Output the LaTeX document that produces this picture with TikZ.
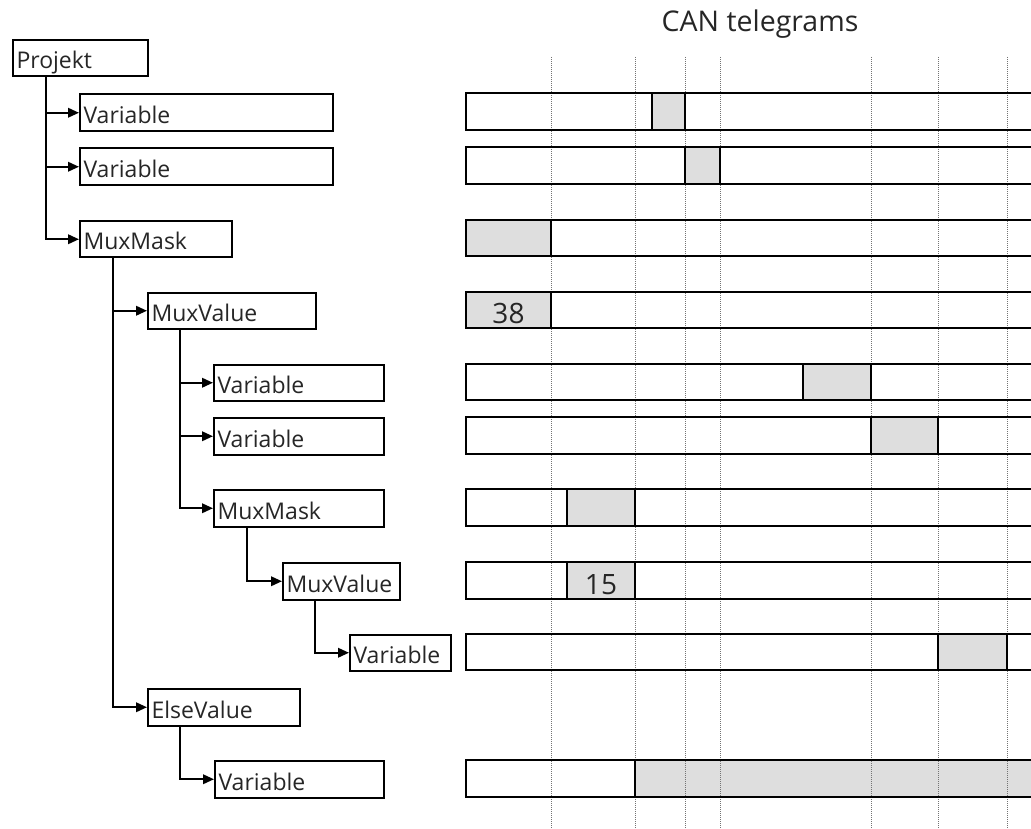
\documentclass[tikz,border=0pt]{standalone}
\usepackage{fontspec}
\setmainfont{Open Sans}
\usetikzlibrary{arrows.meta,calc}
\begin{document}
\begin{tikzpicture}[x=1pt,y=-1pt,
  tbox/.style={draw, line width=2pt, anchor=north west, inner xsep=3.5pt, inner ysep=0pt,
    minimum height=36.5pt, text height=21.5pt, text depth=0pt, align=left,
    font=\fontsize{23}{25}\selectfont, text=black!85},
  arr/.style={line width=2pt, -{Triangle[length=11pt,width=9.5pt]}},
  gridline/.style={black!55, line width=0.9pt, dash pattern=on 1pt off 1pt},
  bar/.style={line width=2pt},
  cell/.style={fill=black!13},
  num/.style={font=\fontsize{28}{30}\selectfont, anchor=base, text=black!85}]
\useasboundingbox (0,0) rectangle (1031,829);
\clip (0,0) rectangle (1031,829);

% title
\node[font=\fontsize{28.5}{31}\selectfont, text=black!85, anchor=base] (title) at (760,32) {CAN telegrams};

% grey cells
\foreach \xa/\xb/\y in {652/685/93.5, 685/720/147.5, 466/551/220, 466/551/291.5,
  803/871/363.5, 871/938/417, 567/635/489, 567/635/562, 938/1007/633.5, 635/1045/760}
  \fill[cell] (\xa,\y) rectangle (\xb,\y+36.5);

% dotted grid lines
\foreach \x in {551,635,685,720,871,938,1007}
  \draw[gridline] (\x,57) -- (\x,829);

% telegram bars
\foreach \y in {93.5,147.5,220,291.5,363.5,417,489,562,633.5,760}
  \draw[bar] (466,\y) rectangle (1045,\y+36.5);
\foreach \xa/\xb/\y in {652/685/93.5, 685/720/147.5, 466/551/220, 466/551/291.5,
  803/871/363.5, 871/938/417, 567/635/489, 567/635/562, 938/1007/633.5, 635/1045/760}
  \draw[bar] (\xa,\y) rectangle (\xb,\y+36.5);

\node[num] (n38) at (508.5,323) {38};
\node[num] (n15) at (601,594) {15};

% tree
\node[tbox, text width=128pt] (proj) at (12,39) {Projekt};
\node[tbox, text width=246pt] (v1) at (79,93.5) {Variable};
\node[tbox, text width=246pt] (v2) at (79,147.5) {Variable};
\node[tbox, text width=145pt] (mm1) at (79,220) {MuxMask};
\node[tbox, text width=161pt] (mv1) at (147,291.5) {MuxValue};
\node[tbox, text width=163pt] (v3) at (213,363.5) {Variable};
\node[tbox, text width=163pt] (v4) at (213,417) {Variable};
\node[tbox, text width=163pt] (mm2) at (213,489) {MuxMask};
\node[tbox, text width=110pt] (mv2) at (282,562) {MuxValue};
\node[tbox, text width=94pt] (v5) at (349,633.5) {Variable};
\node[tbox, text width=145pt] (ev) at (147,688) {ElseValue};
\node[tbox, text width=162pt] (v6) at (214,760) {Variable};

% connectors
\draw[arr] ($(proj.south west)+(33.5,0)$) |- (v1.west);
\draw[arr] ($(proj.south west)+(33.5,0)$) |- (v2.west);
\draw[arr] ($(proj.south west)+(33.5,0)$) |- (mm1.west);
\draw[arr] ($(mm1.south west)+(34,0)$) |- (mv1.west);
\draw[arr] ($(mm1.south west)+(34,0)$) |- (ev.west);
\draw[arr] ($(mv1.south west)+(33,0)$) |- (v3.west);
\draw[arr] ($(mv1.south west)+(33,0)$) |- (v4.west);
\draw[arr] ($(mv1.south west)+(33,0)$) |- (mm2.west);
\draw[arr] ($(mm2.south west)+(34,0)$) |- (mv2.west);
\draw[arr] ($(mv2.south west)+(33,0)$) |- (v5.west);
\draw[arr] ($(ev.south west)+(33,0)$) |- (v6.west);
\end{tikzpicture}
\end{document}
